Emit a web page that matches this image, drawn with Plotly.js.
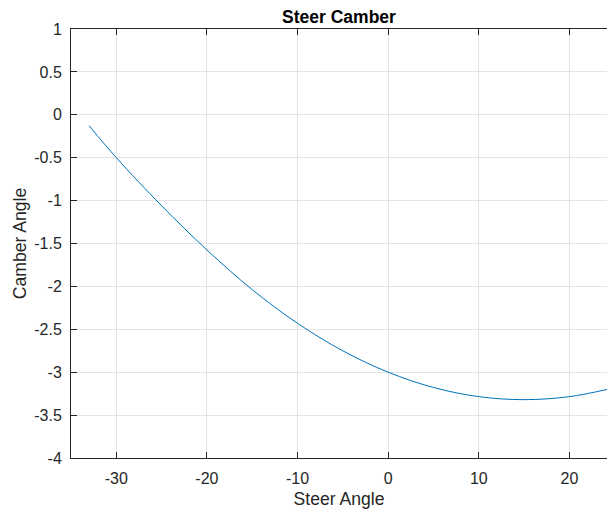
<!DOCTYPE html>
<html>
<head>
<meta charset="utf-8">
<script src="https://cdn.plot.ly/plotly-3.0.1.min.js"></script>
<style>html,body{margin:0;padding:0;background:#fff;overflow:hidden;}#chart{width:607px;height:509px;}</style>
</head>
<body>
<div id="chart"></div>
<script>
// Data
const steerAngle = [-33, -30, -25, -20, -15, -10, -5, 0, 5, 10, 15, 20, 24.15];
const camberAngle = [-0.127, -0.5, -1.06, -1.575, -2.038, -2.43, -2.751, -3.0, -3.178, -3.285, -3.32, -3.285, -3.201];
const xTicks = [-30, -20, -10, 0, 10, 20];
const yTicks = [1, 0.5, 0, -0.5, -1, -1.5, -2, -2.5, -3, -3.5, -4];

const axisColor = '#262626';
const gridColor = '#e3e3e3';
const font = 'Liberation Sans, Arial, Helvetica, sans-serif';

const trace = {
  x: steerAngle,
  y: camberAngle,
  type: 'scatter',
  mode: 'lines',
  line: {color: '#0072BD', width: 1, shape: 'spline', smoothing: 1},
  hoverinfo: 'x+y'
};

const layout = {
  width: 607,
  height: 509,
  margin: {l: 71, r: 0, t: 29, b: 51},
  paper_bgcolor: '#ffffff',
  plot_bgcolor: '#ffffff',
  showlegend: false,
  title: {
    text: '<b>Steer Camber</b>',
    font: {family: 'Liberation Sans Narrow, Arial Narrow, ' + font, size: 17.5, color: '#000000'},
    x: 0.5, xref: 'paper', xanchor: 'center',
    y: 1 - 17 / 509, yref: 'container', yanchor: 'middle'
  },
  xaxis: {
    range: [-35, 24.15],
    tickvals: xTicks,
    ticktext: xTicks.map(String),
    ticks: 'inside', ticklen: 6, tickwidth: 1, tickcolor: axisColor,
    showline: true, linecolor: axisColor, linewidth: 1, mirror: 'ticks',
    showgrid: true, gridcolor: gridColor, gridwidth: 1,
    zeroline: false,
    tickfont: {family: font, size: 16, color: axisColor},
    ticklabelstandoff: 6,
    title: {text: 'Steer Angle', font: {family: font, size: 17.6, color: axisColor}, standoff: 6}
  },
  yaxis: {
    range: [-4, 1],
    tickvals: yTicks,
    ticktext: yTicks.map(String),
    ticks: 'inside', ticklen: 6, tickwidth: 1, tickcolor: axisColor,
    showline: true, linecolor: axisColor, linewidth: 1, mirror: false,
    showgrid: true, gridcolor: gridColor, gridwidth: 1,
    zeroline: false,
    tickfont: {family: font, size: 16, color: axisColor},
    ticklabelstandoff: 5,
    title: {text: 'Camber Angle', font: {family: font, size: 17.6, color: axisColor}, standoff: 3}
  }
};

Plotly.newPlot('chart', [trace], layout, {displayModeBar: false, staticPlot: true});
</script>
</body>
</html>
